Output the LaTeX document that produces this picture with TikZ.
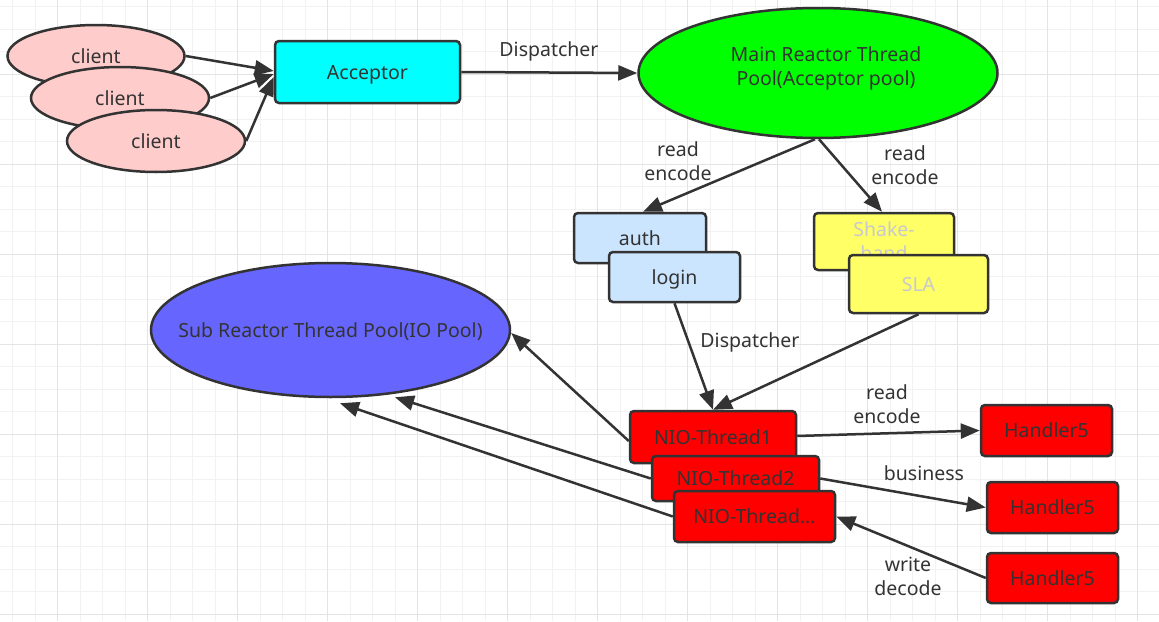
\documentclass[tikz,border=0pt]{standalone}
\usepackage{fontspec}
\setmainfont{Noto Sans}
\usetikzlibrary{arrows.meta,shapes.geometric,calc}
\definecolor{ink}{HTML}{333333}
\definecolor{gminor}{HTML}{F2F2F2}
\definecolor{gmajor}{HTML}{E4E4E4}
\definecolor{clientfill}{HTML}{FFCCCC}
\definecolor{accfill}{HTML}{00FFFF}
\definecolor{mainfill}{HTML}{00FF00}
\definecolor{bluefill}{HTML}{CCE5FF}
\definecolor{yelfill}{HTML}{FFFF66}
\definecolor{subfill}{HTML}{6666FF}
\definecolor{redfill}{HTML}{FF0000}
\definecolor{paletext}{RGB}{200,200,208}
\tikzset{
  base/.style={draw=ink, line width=2.5pt, text=ink, font=\fontsize{19.5}{24}\selectfont, inner sep=0pt, align=center, text height=14.5pt, text depth=0pt},
  box/.style={base, rectangle, rounded corners=4pt},
  oval/.style={base, ellipse},
  lbl/.style={text=ink, font=\fontsize{19.5}{24}\selectfont, align=center, inner sep=0pt},
  conn/.style={draw=ink, line width=2.5pt, -{Triangle[length=19pt,width=15pt]}},
  gridminor/.style={draw=gminor, line width=1pt},
  gridmajor/.style={draw=gmajor, line width=1pt},
}
\begin{document}
\begin{tikzpicture}[x=1pt,y=-1pt]
\useasboundingbox (0,0) rectangle (1159,621);
\fill[white] (0,0) rectangle (1159,621);
% grid
\foreach \i in {0,...,50} {\draw[gridminor] ({12.5+22.5*\i},0) -- ({12.5+22.5*\i},621);}
\foreach \j in {0,...,27} {\draw[gridminor] (0,{6.8+22.5*\j}) -- (1159,{6.8+22.5*\j});}
\foreach \i in {0,...,12} {\draw[gridmajor] ({57.7+90*\i},0) -- ({57.7+90*\i},621);}
\foreach \j in {0,...,6} {\draw[gridmajor] (0,{74.3+90*\j}) -- (1159,{74.3+90*\j});}

% clients
\node[oval, fill=clientfill, minimum width=177pt, minimum height=62pt] (c1) at (96,56) {client};
\node[oval, fill=clientfill, minimum width=178pt, minimum height=62pt] (c2) at (120,98) {client};
\node[oval, fill=clientfill, minimum width=178pt, minimum height=62pt] (c3) at (156,141) {client};

% acceptor
\node[box, fill=accfill, minimum width=185pt, minimum height=62pt] (acc) at (367.5,72) {Acceptor};

% main reactor
\node[oval, fill=mainfill, minimum width=359pt, minimum height=130pt] (main) at (818,73) {};
\node[lbl] (mainlbl) at (826,68) {Main Reactor Thread\\Pool(Acceptor pool)};

% auth / login
\node[box, fill=bluefill, minimum width=132pt, minimum height=50pt] (auth) at (640,238) {auth};
\node[box, fill=bluefill, minimum width=131pt, minimum height=50pt] (login) at (674.5,277) {login};

% shake-hand / SLA
\node[box, fill=yelfill, text=paletext, minimum width=140pt, minimum height=57pt, text height=, text depth=] (shake) at (884,241.5) {Shake-\\hand};
\node[box, fill=yelfill, text=paletext, minimum width=139pt, minimum height=58pt] (sla) at (918.5,284) {SLA};

% sub reactor
\node[oval, fill=subfill, minimum width=359pt, minimum height=134pt] (sub) at (330.5,330) {\makebox[0pt]{Sub Reactor Thread Pool(IO Pool)}};

% NIO threads
\node[box, fill=redfill, minimum width=166pt, minimum height=52pt] (nio1) at (713,437) {NIO-Thread1};
\node[box, fill=redfill, minimum width=167pt, minimum height=45pt] (nio2) at (735.5,478.5) {NIO-Thread2};
\node[box, fill=redfill, minimum width=161pt, minimum height=51pt] (nio3) at (754.5,516.5) {NIO-Thread...};

% handlers
\node[box, fill=redfill, minimum width=131pt, minimum height=51pt] (h1) at (1046.5,430.5) {Handler5};
\node[box, fill=redfill, minimum width=131pt, minimum height=51pt] (h2) at (1052.5,507.5) {Handler5};
\node[box, fill=redfill, minimum width=131pt, minimum height=50pt] (h3) at (1052.5,578) {Handler5};

% connectors
\draw[conn] (c1.east) -- ([yshift=1pt]acc.west);
\draw[conn] (c2.east) -- ([yshift=-2pt]acc.west);
\draw[conn] (c3.east) -- ([yshift=-5pt]acc.west);
\draw[conn] (acc.east) -- (main.west);
\draw[conn] ([xshift=-3pt]main.south) -- ([xshift=3pt]auth.north);
\draw[conn] ([xshift=1pt]main.south) -- ([xshift=-2pt]shake.north);
\draw[conn] (login.south) -- (nio1.north);
\draw[conn] (sla.south) -- (nio1.north);
\draw[conn] ([yshift=-4pt]nio1.west) -- ([yshift=-3pt]sub.east);
\draw[conn] (nio2.west) -- ($(sub.south)+(64.5,-1)$);
\draw[conn] (nio3.west) -- ($(sub.south)+(9.5,5)$);
\draw[conn] ([yshift=1pt]nio1.east) -- (h1.west);
\draw[conn] (nio2.east) -- (h2.west);
\draw[conn] (h3.west) -- (nio3.east);

% labels
\node[lbl] (ldisp1) at (549,51) {Dispatcher};
\node[lbl] (lre1) at (678,161) {read\\encode};
\node[lbl] (lre2) at (905,165) {read\\encode};
\node[lbl] (ldisp2) at (750,342) {Dispatcher};
\node[lbl] (lre3) at (887,404) {read\\encode};
\node[lbl] (lbus) at (924,473) {business};
\node[lbl] (lwd) at (908,576) {write\\decode};
\end{tikzpicture}
\end{document}
